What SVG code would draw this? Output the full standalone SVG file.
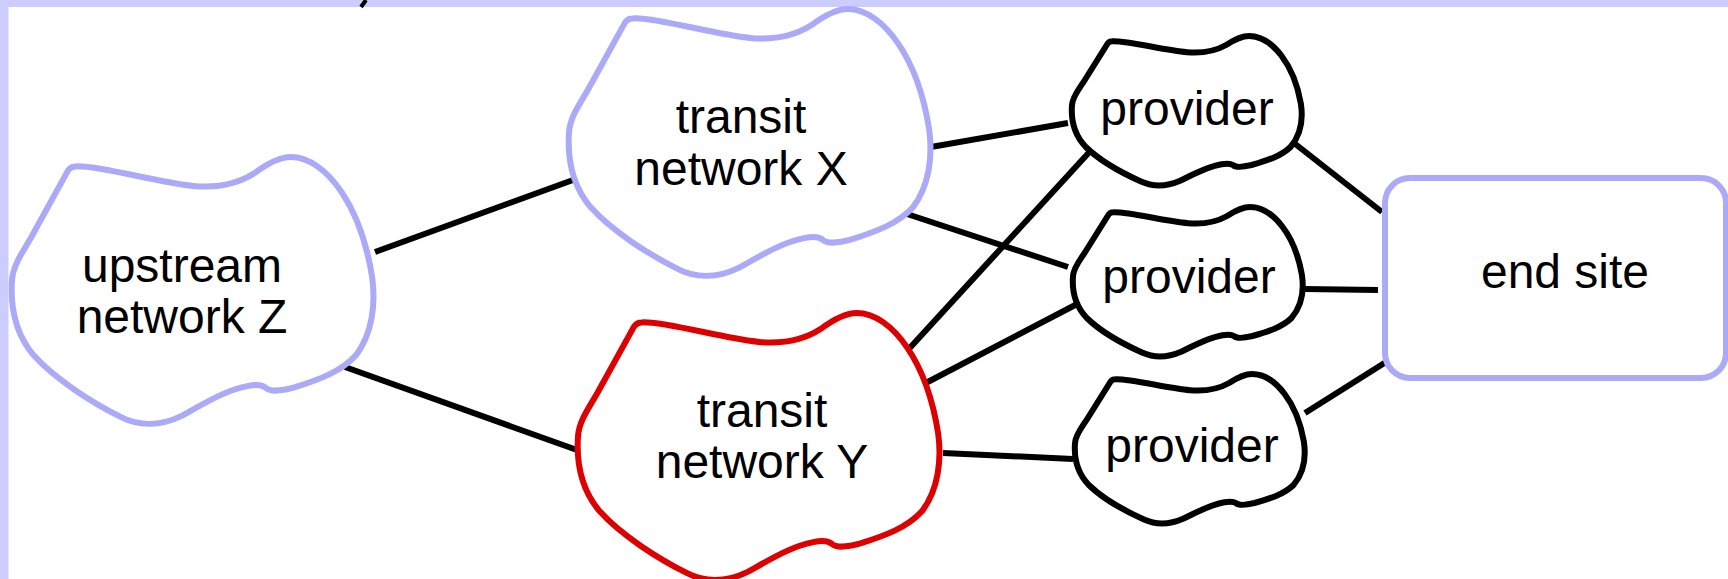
<svg xmlns="http://www.w3.org/2000/svg" width="1728" height="579" viewBox="0 0 1728 579">
<style>
.cloud{fill:#ffffff;stroke-width:6;stroke-linejoin:round}
.blue{stroke:#aaaaf8}
.red{stroke:#dd0000}
.black{stroke:#000000}
.lbl{font-family:"Liberation Sans",Arial,sans-serif;font-size:48px;fill:#000000;text-anchor:middle}
.conn line{stroke:#000000;stroke-width:6}
</style>
<defs>
<path id="bigCloud" d="M 63.35 9.38 C 86.88 8.04, 144.8 25.46, 181 28.94 C 209.96 31.62, 228.06 25.46, 242.54 16.08 C 257.02 5.36, 267.88 0, 278.74 0 C 296.84 0, 314.94 13.4, 329.42 34.84 C 343.9 56.28, 354.76 85.76, 360.19 120.6 C 363.81 147.4, 360.19 176.88, 343.9 198.32 C 329.42 214.4, 307.7 222.44, 282.36 230.48 C 267.88 234.5, 257.02 234.5, 253.4 230.48 C 249.78 227.8, 244.35 227.26, 235.3 229.14 C 213.58 233.16, 191.86 246.56, 170.14 258.62 C 148.42 269.34, 126.7 269.34, 108.6 259.96 C 79.64 245.22, 43.44 222.44, 21.72 198.32 C 3.62 176.88, -1.81 150.08, 0 123.28 C 1.09 107.2, 11.58 94.07, 19.91 79.06 L 56.11 13.4 C 57.92 10.72, 60.45 9.38, 63.35 9.38 Z"/>
<path id="smallCloud" d="M 40.25 5.25 C 55.2 4.5, 92 14.25, 115 16.2 C 133.4 17.7, 144.9 14.25, 154.1 9 C 163.3 3, 170.2 0, 177.1 0 C 188.6 0, 200.1 7.5, 209.3 19.5 C 218.5 31.5, 225.4 48, 228.85 67.5 C 231.15 82.5, 228.85 99, 218.5 111 C 209.3 120, 195.5 124.5, 179.4 129 C 170.2 131.25, 163.3 131.25, 161 129 C 158.7 127.5, 155.25 127.2, 149.5 128.25 C 135.7 130.5, 121.9 138, 108.1 144.75 C 94.3 150.75, 80.5 150.75, 69 145.5 C 50.6 137.25, 27.6 124.5, 13.8 111 C 2.3 99, -1.15 84, 0 69 C 0.69 60, 7.36 52.65, 12.65 44.25 L 35.65 7.5 C 36.8 6, 38.41 5.25, 40.25 5.25 Z"/>
</defs>
<rect x="0" y="0" width="1728" height="579" fill="#ffffff"/>
<rect x="0" y="0" width="1728" height="7" fill="#ccccff"/>
<rect x="0" y="0" width="8.5" height="579" fill="#ccccff"/>
<line x1="366" y1="0" x2="361" y2="7" stroke="#000000" stroke-width="4"/>

<g id="connectors" class="conn">
<line x1="375" y1="252" x2="573" y2="180"/>
<line x1="345" y1="367" x2="577" y2="450"/>
<line x1="931" y1="147" x2="1068" y2="123"/>
<line x1="904" y1="213" x2="1068" y2="267"/>
<line x1="907" y1="351" x2="1094" y2="147"/>
<line x1="922" y1="385" x2="1081" y2="302"/>
<line x1="943" y1="453" x2="1073" y2="459"/>
<line x1="1294" y1="143" x2="1382" y2="212"/>
<line x1="1304" y1="289" x2="1378" y2="290"/>
<line x1="1305" y1="413" x2="1386" y2="362"/>
</g>

<g id="upstreamZ">
<use href="#bigCloud" class="cloud blue" transform="translate(12,157)"/>
<text class="lbl" x="182" y="282">upstream</text>
<text class="lbl" x="182" y="333">network Z</text>
</g>

<g id="transitX">
<use href="#bigCloud" class="cloud blue" transform="translate(569,9)"/>
<text class="lbl" x="741" y="133">transit</text>
<text class="lbl" x="741" y="185">network X</text>
</g>

<g id="transitY">
<use href="#bigCloud" class="cloud red" transform="translate(578,313)"/>
<text class="lbl" x="762" y="427">transit</text>
<text class="lbl" x="762" y="478">network Y</text>
</g>

<g id="provider1">
<use href="#smallCloud" class="cloud black" transform="translate(1072,36)"/>
<text class="lbl" x="1187" y="125">provider</text>
</g>

<g id="provider2">
<use href="#smallCloud" class="cloud black" transform="translate(1073,207)"/>
<text class="lbl" x="1189" y="293">provider</text>
</g>

<g id="provider3">
<use href="#smallCloud" class="cloud black" transform="translate(1075,374)"/>
<text class="lbl" x="1192" y="462">provider</text>
</g>

<g id="endSite">
<rect x="1385" y="178" width="341" height="200" rx="25" ry="25" fill="#ffffff" stroke="#aaaaf8" stroke-width="6"/>
<text class="lbl" x="1565" y="288">end site</text>
</g>
</svg>
